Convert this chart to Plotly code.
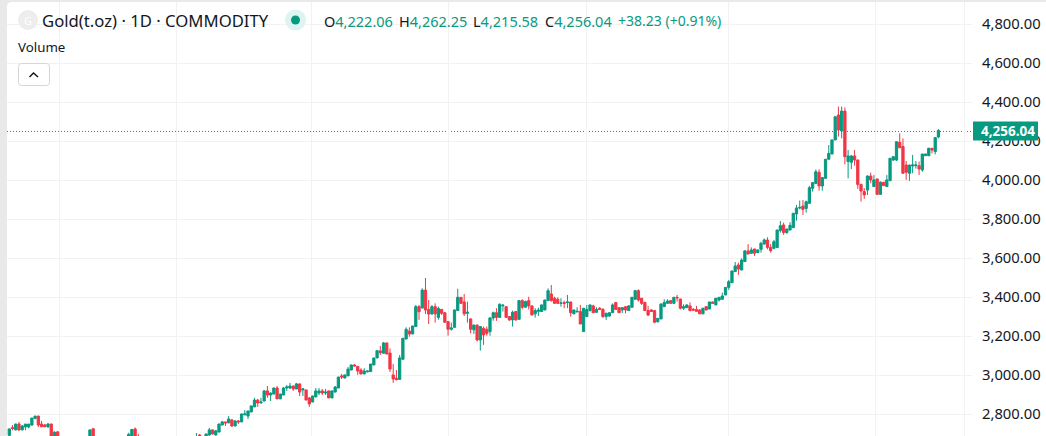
import plotly.graph_objects as go

W, H = 1046, 436
PLOT_LEFT, PLOT_RIGHT, PLOT_TOP = 7, 972, 2

GREEN = "#089981"
RED = "#F23645"
INK = "#131722"
GRID = "#F2F2F3"
FONT = "Noto Sans"

opens = [
    2692,2732,2720,2750,2720,2735,2735,2745,2778,2791,
    2750,2745,2736,2750,2670,2710,2670,2635,2650,2620,
    2645,2655,2640,2662,2672,2668,2726,2675,2650,2665,
    2640,2655,2630,2645,2660,2650,2665,2660,2672,2725,
    2668,2640,2610,2635,2605,2585,2610,2625,2600,2620,
    2640,2625,2645,2655,2640,2650,2665,2670,2660,2694,
    2670,2670,2694,2720,2694,2709,2745,2761,2756,2771,
    2740,2766,2761,2797,2791,2812,2838,2873,2858,2868,
    2920,2899,2904,2935,2879,2899,2935,2935,2945,2930,
    2956,2925,2925,2884,2863,2889,2909,2920,2909,2920,
    2884,2914,2935,2997,2986,2997,3027,3053,3046,3027,
    3007,3017,3019,3053,3089,3125,3113,3166,3114,3002,
    2985,2979,3082,3186,3227,3212,3250,3352,3345,3437,
    3338,3314,3352,3297,3338,3321,3275,3236,3246,3332,
    3400,3376,3318,3289,3233,3258,3181,3241,3236,3224,
    3294,3321,3297,3356,3352,3301,3284,3327,3287,3383,
    3349,3383,3356,3315,3328,3327,3335,3383,3417,3395,
    3390,3369,3373,3373,3376,3315,3325,3327,3224,3301,
    3332,3356,3323,3344,3338,3301,3304,3321,3373,3347,
    3335,3352,3332,3349,3390,3434,3395,3373,3332,3335,
    3332,3275,3289,3352,3369,3383,3369,3400,3391,3344,
    3347,3356,3338,3338,3335,3315,3352,3340,3376,3361,
    3386,3390,3412,3451,3475,3532,3566,3540,3583,3638,
    3626,3648,3629,3646,3673,3694,3656,3651,3655,3742,
    3771,3732,3745,3757,3827,3858,3868,3856,3882,3959,
    3984,4041,3971,4010,4108,4135,4207,4335,4253,4355,
    4096,4092,4125,4104,3979,3942,3950,4022,3968,4007,
    3928,3990,3968,3998,4104,4104,4195,4173,4078,4036,
    4073,4075,4075,4053,4126,4126,4164,4147,4222.06,
]
highs = [
    2726,2745,2752,2761,2745,2750,2750,2781,2791,2792,
    2766,2750,2756,2753,2713,2713,2680,2660,2665,2650,
    2665,2672,2670,2680,2682,2722,2727,2680,2670,2675,
    2660,2665,2650,2670,2675,2670,2678,2705,2725,2732,
    2699,2650,2640,2642,2620,2615,2630,2635,2625,2645,
    2650,2650,2660,2665,2660,2670,2678,2680,2704,2699,
    2685,2700,2730,2722,2720,2752,2766,2762,2791,2776,
    2770,2771,2802,2822,2818,2844,2884,2879,2884,2925,
    2945,2912,2936,2945,2905,2940,2950,2961,2947,2961,
    2957,2935,2926,2889,2895,2935,2935,2930,2930,2921,
    2921,2945,2992,3007,3003,3043,3055,3057,3047,3036,
    3036,3022,3058,3089,3130,3150,3171,3167,3138,3058,
    3027,3104,3191,3246,3246,3253,3361,3361,3446,3499,
    3386,3361,3369,3352,3340,3323,3279,3270,3338,3444,
    3401,3417,3378,3292,3258,3259,3250,3250,3250,3299,
    3327,3344,3369,3366,3353,3302,3332,3328,3386,3390,
    3383,3403,3358,3344,3347,3362,3387,3446,3463,3403,
    3400,3395,3383,3412,3377,3336,3349,3361,3345,3361,
    3362,3362,3349,3349,3344,3321,3322,3369,3376,3350,
    3350,3354,3360,3401,3438,3441,3397,3378,3356,3340,
    3335,3293,3367,3390,3390,3385,3401,3412,3393,3364,
    3362,3374,3345,3356,3338,3345,3354,3377,3378,3396,
    3401,3424,3452,3489,3537,3581,3578,3600,3643,3673,
    3656,3649,3644,3685,3702,3708,3673,3694,3746,3791,
    3783,3752,3785,3832,3873,3896,3899,3896,3971,3989,
    4056,4056,4015,4109,4181,4208,4327,4378,4378,4373,
    4156,4130,4155,4106,3982,3960,4025,4039,4027,4008,
    3995,3992,4027,4114,4125,4199,4241,4215,4099,4080,
    4130,4099,4096,4135,4136,4167,4166,4222,4262.25,
]
lows = [
    2688,2718,2718,2715,2718,2718,2728,2742,2777,2735,
    2735,2735,2730,2680,2660,2660,2625,2620,2610,2605,
    2635,2630,2632,2650,2640,2660,2665,2640,2640,2630,
    2630,2620,2615,2640,2640,2645,2640,2655,2665,2660,
    2630,2600,2600,2595,2575,2580,2600,2590,2590,2610,
    2615,2615,2635,2630,2635,2640,2655,2650,2650,2660,
    2660,2665,2690,2698,2692,2708,2744,2740,2755,2735,
    2739,2750,2760,2796,2776,2811,2837,2838,2857,2867,
    2884,2868,2903,2878,2878,2898,2920,2930,2920,2929,
    2894,2894,2873,2838,2862,2888,2899,2899,2899,2884,
    2883,2913,2934,2981,2985,2996,3026,3045,3002,3005,
    3005,3016,3018,3052,3088,3104,3112,3109,3017,2961,
    2973,2978,3081,3185,3198,3211,3249,3284,3344,3314,
    3263,3313,3270,3285,3309,3271,3203,3229,3245,3330,
    3368,3304,3270,3215,3212,3174,3127,3156,3203,3203,
    3280,3279,3296,3327,3296,3279,3250,3280,3286,3338,
    3348,3338,3309,3296,3304,3326,3334,3382,3378,3368,
    3366,3352,3344,3344,3301,3314,3323,3263,3223,3300,
    3327,3321,3322,3336,3294,3284,3300,3320,3338,3320,
    3320,3318,3331,3348,3389,3378,3361,3330,3304,3325,
    3267,3270,3288,3351,3368,3368,3368,3378,3338,3335,
    3346,3328,3333,3327,3315,3314,3334,3339,3368,3360,
    3378,3389,3411,3438,3474,3530,3515,3539,3582,3621,
    3625,3612,3628,3629,3672,3646,3629,3646,3654,3732,
    3720,3725,3744,3756,3793,3851,3822,3834,3881,3942,
    3983,3947,3947,4009,4107,4134,4206,4224,4215,4082,
    4010,4058,4075,3956,3891,3905,3925,3985,3966,3925,
    3925,3972,3966,3997,4099,4099,4165,4035,4002,3997,
    4036,4060,4027,4044,4125,4124,4138,4133,4215.58,
]
closes = [
    2725,2727,2750,2720,2740,2750,2750,2781,2791,2745,
    2736,2736,2750,2688,2708,2670,2635,2650,2620,2645,
    2655,2640,2662,2672,2650,2720,2675,2650,2665,2640,
    2655,2630,2645,2660,2650,2665,2655,2697,2722,2668,
    2640,2610,2635,2605,2585,2610,2625,2600,2620,2640,
    2625,2645,2655,2640,2650,2665,2670,2660,2682,2670,
    2680,2699,2720,2699,2715,2750,2761,2756,2776,2740,
    2766,2761,2802,2802,2817,2843,2873,2858,2863,2920,
    2899,2909,2935,2879,2904,2935,2940,2945,2930,2956,
    2914,2930,2873,2853,2894,2920,2920,2909,2914,2884,
    2920,2940,2991,2991,3002,3032,3053,3048,3022,3007,
    3022,3022,3058,3089,3126,3116,3166,3109,3032,2981,
    2978,3089,3190,3236,3212,3253,3352,3326,3437,3335,
    3314,3352,3315,3342,3318,3272,3236,3243,3335,3400,
    3369,3315,3323,3236,3258,3181,3250,3207,3215,3294,
    3321,3297,3364,3359,3297,3284,3323,3284,3383,3349,
    3378,3356,3309,3332,3335,3361,3386,3434,3383,3369,
    3369,3371,3369,3376,3321,3335,3328,3263,3344,3338,
    3361,3321,3338,3338,3301,3318,3321,3361,3338,3321,
    3347,3335,3356,3400,3434,3386,3369,3332,3309,3327,
    3272,3292,3366,3373,3381,3369,3400,3397,3344,3352,
    3361,3332,3334,3328,3315,3344,3335,3376,3369,3395,
    3400,3407,3451,3480,3535,3561,3545,3591,3638,3622,
    3643,3626,3643,3677,3694,3656,3639,3685,3745,3767,
    3732,3750,3769,3831,3858,3861,3851,3890,3962,3988,
    4044,3971,4014,4108,4138,4207,4326,4258,4355,4121,
    4125,4125,4104,3979,3945,3925,4022,4002,4002,3928,
    3990,3973,4002,4113,4121,4198,4167,4036,4041,4078,
    4079,4079,4058,4135,4135,4164,4155,4219,4256.04,
]
assert len(opens) == len(highs) == len(lows) == len(closes)

price_ticks = [2800, 3000, 3200, 3400, 3600, 3800, 4000, 4200, 4400, 4600, 4800]
# Bar positions where a new period starts; they carry the vertical grid lines.
period_bars = [15.7, 51.7, 93.8, 136, 179, 222.8, 268.4, 296]
bars = list(range(len(closes)))

title_text = "Gold(t.oz) · 1D · COMMODITY"
legend_text = "Volume"
quote_parts = [
    ("O", "4,222.06", 322),
    ("H", "4,262.25", 397),
    ("L", "4,215.58", 471),
    ("C", "4,256.04", 543),
]
change_text = "+38.23 (+0.91%)"


def fx(px):
    """Pixel column to paper fraction of the plot area."""
    return (px - PLOT_LEFT) / (PLOT_RIGHT - PLOT_LEFT)


def fy(py):
    """Pixel row to paper fraction of the plot area."""
    return (H - py) / (H - PLOT_TOP)


def label(text, px, py, size, color=INK, anchor="left"):
    return dict(
        text=text, x=fx(px), y=fy(py), xref="paper", yref="paper",
        xanchor=anchor, yanchor="middle", showarrow=False,
        font=dict(family=FONT, size=size, color=color),
    )


def circle(cx, cy, r, fill):
    return dict(
        type="circle", xref="paper", yref="paper", layer="above",
        x0=fx(cx - r), x1=fx(cx + r), y0=fy(cy + r), y1=fy(cy - r),
        fillcolor=fill, line=dict(width=0),
    )


def rounded_rect_path(x0, y0, x1, y1, r):
    l, rt = fx(x0), fx(x1)
    t, b = fy(y0), fy(y1)
    rx, ry = fx(x0 + r) - l, t - fy(y0 + r)
    return (
        f"M {l + rx} {t} L {rt - rx} {t} Q {rt} {t} {rt} {t - ry} "
        f"L {rt} {b + ry} Q {rt} {b} {rt - rx} {b} L {l + rx} {b} "
        f"Q {l} {b} {l} {b + ry} L {l} {t - ry} Q {l} {t} {l + rx} {t} Z"
    )


fig = go.Figure(
    go.Candlestick(
        x=bars, open=opens, high=highs, low=lows, close=closes,
        increasing=dict(line=dict(color=GREEN, width=1), fillcolor=GREEN),
        decreasing=dict(line=dict(color=RED, width=1), fillcolor=RED),
        showlegend=False, hoverinfo="skip",
    )
)

shapes = [
    # White chart card on the grey page.
    dict(type="path", xref="paper", yref="paper", layer="below",
         path=rounded_rect_path(PLOT_LEFT, PLOT_TOP, W + 12, H + 12, 5),
         fillcolor="#FFFFFF", line=dict(width=0)),
    # Last price line, nudged onto a whole pixel row.
    dict(type="line", xref="paper", yref="y", layer="below",
         ysizemode="pixel", yanchor=closes[-1], x0=0, x1=1, y0=-1.1, y1=-1.1,
         line=dict(color=GREEN, width=1, dash="1px,2px")),
    # Last price badge on the price scale.
    dict(type="rect", xref="paper", yref="y", layer="above",
         ysizemode="pixel", yanchor=closes[-1], x0=fx(973), x1=fx(1038), y0=-10, y1=9,
         fillcolor=GREEN, line=dict(width=0)),
    # Symbol logo and market status dot.
    circle(28, 20, 10, "#EDEDED"),
    circle(295.5, 20, 10.5, "#DFF3F0"),
    circle(295.5, 20, 4.5, GREEN),
    # Collapse button and its chevron.
    dict(type="path", xref="paper", yref="paper", layer="above",
         path=rounded_rect_path(18.5, 63.5, 49.5, 85.5, 3),
         fillcolor="#FFFFFF", line=dict(color="#D6D6D6", width=1)),
    dict(type="path", xref="paper", yref="paper", layer="above",
         path=f"M {fx(29.5)} {fy(77)} L {fx(33.5)} {fy(73)} L {fx(38)} {fy(77)}",
         line=dict(color=INK, width=1.5)),
]

annotations = [
    label("G", 28, 20, 11, "#FFFFFF", "center"),
    label(title_text, 40, 20.5, 16.7),
    label(legend_text, 16, 47, 13.3),
    label(change_text, 616, 20.5, 14, GREEN),
    dict(text=f"<b>{closes[-1]:,.2f}</b>", x=fx(1008), y=closes[-1], xref="paper", yref="y",
         xanchor="center", yanchor="middle", showarrow=False, yshift=-0.5,
         font=dict(family=FONT, size=13.5, color="#FFFFFF")),
]
for letter, value, px in quote_parts:
    annotations.append(
        label(f'{letter}<span style="color:{GREEN}">{value}</span>', px, 20.5, 14.5)
    )

fig.update_layout(
    width=W, height=H,
    margin=dict(l=PLOT_LEFT, r=W - PLOT_RIGHT, t=PLOT_TOP, b=0, pad=0),
    paper_bgcolor="#E9E9E9",
    plot_bgcolor="rgba(0,0,0,0)",
    boxgap=0, boxgroupgap=0.3,
    shapes=shapes, annotations=annotations,
    font=dict(family=FONT, color=INK),
    hovermode=False,
    xaxis=dict(
        range=[-0.71, 298.4], tickmode="array", tickvals=period_bars,
        showticklabels=False, ticks="", showgrid=True, gridcolor=GRID, gridwidth=1,
        zeroline=False, showline=False, rangeslider=dict(visible=False),
    ),
    yaxis=dict(
        side="right", range=[2688.7, 4914.4], tickmode="array", tickvals=price_ticks,
        tickformat=",.2f", tickfont=dict(family=FONT, size=14.8, color=INK),
        ticks="outside", ticklen=6, tickcolor="rgba(0,0,0,0)",
        showgrid=True, gridcolor=GRID, gridwidth=1, zeroline=False, showline=False,
    ),
)

fig.write_html("out.html", config=dict(displayModeBar=False))
